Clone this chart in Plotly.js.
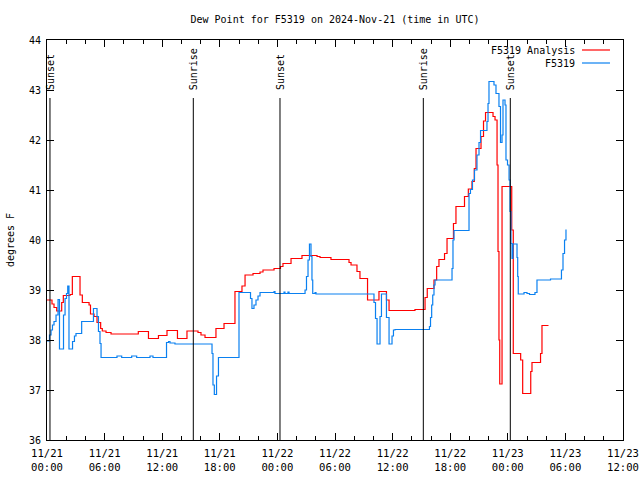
<!DOCTYPE html>
<html>
<head>
<meta charset="utf-8">
<script src="https://cdn.plot.ly/plotly-3.0.1.min.js"></script>
<style>html,body{margin:0;padding:0;background:#fff}#chart{width:640px;height:480px}</style>
</head>
<body>
<div id="chart"></div>
<script>
// Hours since 2024-11-21 00:00 UTC, and dew point (degrees F)
const analysisHours = [0,0.52,0.73,1.01,1.53,1.70,2.40,2.64,3.44,3.68,4.38,4.53,4.90,5.21,5.59,5.76,6.15,6.67,9.51,10.57,11.61,12.5,13.59,14.58,15.73,16.04,16.46,17.60,18.44,19.58,20.31,20.63,21.46,22.19,22.5,23.65,24.32,24.58,25.42,26.56,28.13,28.44,29.58,31.46,31.67,32.29,32.60,33.39,34.58,35.36,35.63,38.33,39.38,39.61,40.31,40.59,40.83,41.41,41.67,42.34,42.60,43.49,43.89,44.27,44.51,44.69,45.21,45.47,45.68,46.46,46.67,46.88,46.98,47.08,47.16,47.40,48.41,48.57,49.34,49.55,50.39,50.52,51.41,51.56,52.24];
const analysisDew = [38.8,38.72,38.65,38.58,38.75,38.89,38.91,39.27,38.9,38.75,38.7,38.52,38.47,38.35,38.23,38.18,38.15,38.12,38.17,38.03,38.09,38.19,38.03,38.18,38.15,38.1,38.05,38.23,38.33,38.97,39.08,39.3,39.33,39.36,39.4,39.43,39.47,39.53,39.63,39.69,39.67,39.65,39.61,39.55,39.5,39.37,39.23,38.8,38.97,38.8,38.59,38.61,38.85,39.03,39.2,39.47,39.61,39.73,40.03,40.33,40.67,40.87,41.02,41.17,41.43,41.83,42.07,42.38,42.55,42.47,42.4,41.5,39.77,38.0,37.12,41.07,40.2,37.73,37.6,36.93,37.37,37.55,37.73,38.29,38.29];

const obsHours = [0,0.26,0.42,0.57,0.73,0.94,1.15,1.30,1.72,1.88,2.03,2.16,2.29,2.66,2.86,3.02,3.61,4.84,5.21,5.36,5.52,5.63,7.29,7.78,8.82,9.34,10.73,11.04,12.45,12.66,12.81,13.33,17.19,17.29,17.43,17.66,17.86,20.0,21.20,21.35,21.56,21.77,21.98,22.19,23.65,23.75,24.69,24.79,25.10,25.21,26.88,27.03,27.19,27.34,27.5,27.60,27.68,27.92,28.02,34.06,34.22,34.38,34.69,34.84,35.36,35.63,35.94,36.09,36.25,39.84,39.95,40.07,40.18,40.31,40.42,42.19,42.29,42.40,43.96,44.11,44.32,44.53,44.79,45.0,45.16,45.83,45.94,46.04,46.56,46.77,47.08,47.24,47.40,47.5,47.71,47.81,47.97,48.13,48.23,48.33,48.44,48.54,48.96,49.03,49.09,49.69,50.0,50.26,50.83,51.04,52.45,53.59,53.75,53.91,54.06];
const obsDew = [37.98,38.1,38.2,38.3,38.37,38.5,38.81,37.82,38.5,38.83,38.93,39.08,37.82,37.97,38.08,38.13,38.37,38.63,38.47,38.17,37.93,37.65,37.68,37.65,37.68,37.65,37.68,37.65,37.95,37.97,37.94,37.92,37.73,37.1,36.91,37.28,37.65,38.95,38.83,38.63,38.7,38.8,38.88,38.95,38.97,38.93,38.96,38.93,38.96,38.93,39.0,39.27,39.6,39.92,39.67,39.2,38.93,38.95,38.92,38.75,38.43,37.92,38.47,38.92,38.45,37.92,38.08,38.2,38.21,38.27,38.45,38.7,38.9,39.1,39.2,39.43,40.0,40.19,40.93,41.01,41.2,41.4,41.7,41.95,42.19,42.37,42.73,43.17,43.1,42.93,42.67,41.95,42.1,42.8,42.7,41.6,41.5,41.2,40.57,39.93,39.63,39.92,39.65,39.27,38.92,38.95,38.93,38.91,38.95,39.2,39.22,39.4,39.73,40.0,40.21];

const seriesNames = ['F5319 Analysis', 'F5319'];
const seriesColors = ['#ff0000', '#0a80f0'];

const sunEventHours = [0.31, 15.24, 24.27, 39.2, 48.26];
const sunEventLabels = ['Sunset', 'Sunrise', 'Sunset', 'Sunrise', 'Sunset'];
const sunLineTop = 42.84;
const sunLabelBase = 42.96;

const xTickHours = [0, 6, 12, 18, 24, 30, 36, 42, 48, 54, 60];
const xTickLabels = ['11/21<br>00:00','11/21<br>06:00','11/21<br>12:00','11/21<br>18:00','11/22<br>00:00','11/22<br>06:00','11/22<br>12:00','11/22<br>18:00','11/23<br>00:00','11/23<br>06:00','11/23<br>12:00'];
const xMinorHours = [];
for (let h = 0; h <= 60; h += 2) { if (h % 6 !== 0) xMinorHours.push(h); }

const FONT = 'DejaVu Sans Mono, monospace';

const traces = [
  { x: analysisHours, y: analysisDew, name: seriesNames[0], mode: 'lines',
    line: { color: seriesColors[0], width: 1.2, shape: 'hv' } },
  { x: obsHours, y: obsDew, name: seriesNames[1], mode: 'lines',
    line: { color: seriesColors[1], width: 1.2, shape: 'hv' } }
];

const shapes = sunEventHours.map(h => ({
  type: 'line', xref: 'x', yref: 'y', x0: h, x1: h, y0: 36, y1: sunLineTop,
  line: { color: '#000', width: 1 }
}));
const annotations = sunEventHours.map((h, i) => ({
  xref: 'x', yref: 'y', x: h, y: sunLabelBase, text: sunEventLabels[i],
  textangle: -90, showarrow: false, xanchor: 'center', yanchor: 'bottom',
  font: { family: FONT, size: 10, color: '#000' }
}));

// Key in gnuplot style: label text right-aligned, sample line to its right
const keyRowY = [0.975, 0.9425];
seriesNames.forEach((name, i) => {
  annotations.push({
    xref: 'paper', yref: 'paper', x: 0.9200, y: keyRowY[i], text: name,
    showarrow: false, xanchor: 'right', yanchor: 'middle',
    font: { family: FONT, size: 10, color: '#000' }
  });
  shapes.push({
    type: 'line', xref: 'paper', yref: 'paper', x0: 0.9288, x1: 0.9774, y0: keyRowY[i], y1: keyRowY[i],
    line: { color: seriesColors[i], width: 1.2 }
  });
});

const layout = {
  width: 640, height: 480,
  margin: { l: 47, r: 17, t: 40, b: 40 },
  paper_bgcolor: '#fff', plot_bgcolor: '#fff',
  font: { family: FONT, size: 10, color: '#000' },
  title: { text: 'Dew Point for F5319 on 2024-Nov-21 (time in UTC)', x: 0.5, xref: 'paper',
           y: 1 - 19/480, yref: 'container', yanchor: 'middle', font: { family: FONT, size: 10, color: '#000' } },
  xaxis: {
    range: [0, 60], tickmode: 'array', tickvals: xTickHours, ticktext: xTickLabels,
    ticks: 'inside', ticklen: 7, tickcolor: '#000', showgrid: false, zeroline: false,
    showline: true, linecolor: '#000', linewidth: 1, mirror: 'ticks', ticklabelstandoff: 3,
    minor: { tickmode: 'array', tickvals: xMinorHours, ticks: 'inside', ticklen: 4, tickcolor: '#000', showgrid: false },
    tickfont: { family: FONT, size: 10.6, color: '#000' }
  },
  yaxis: {
    range: [36, 44], dtick: 1, tick0: 36,
    ticks: 'inside', ticklen: 7, tickcolor: '#000', showgrid: false, zeroline: false,
    showline: true, linecolor: '#000', linewidth: 1, mirror: 'ticks', ticklabelstandoff: 3,
    title: { text: 'degrees F', font: { family: FONT, size: 10, color: '#000' }, standoff: 12 },
    tickfont: { family: FONT, size: 10, color: '#000' }
  },
  showlegend: false,
  shapes: shapes,
  annotations: annotations
};

Plotly.newPlot('chart', traces, layout, { displayModeBar: false, staticPlot: true });
</script>
</body>
</html>
